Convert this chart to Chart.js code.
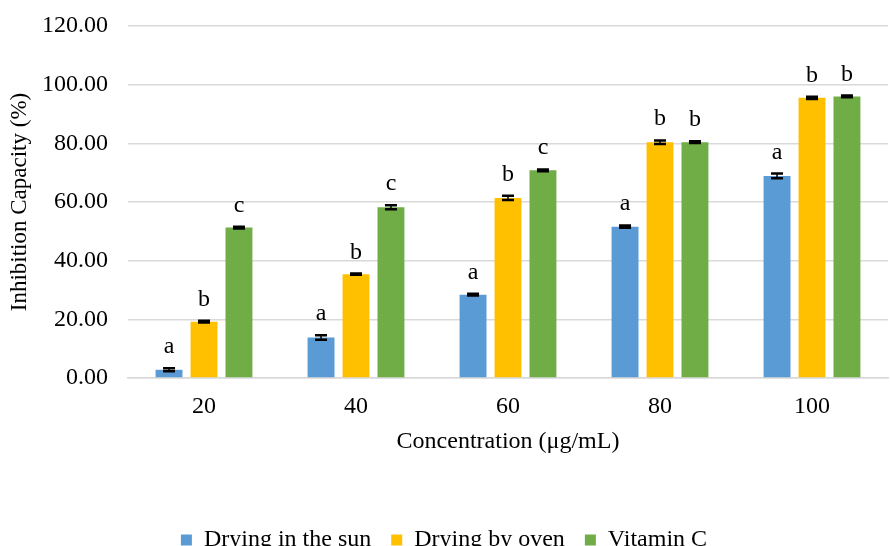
<!DOCTYPE html>
<html><head><meta charset="utf-8">
<script src="https://cdn.jsdelivr.net/npm/chart.js@4"></script>
<style>html,body{margin:0;padding:0;overflow:hidden;background:#fff}#wrap{width:890px;height:562px;position:relative}</style>
</head><body><div id="wrap"><canvas id="c"></canvas></div>
<script>
const categories = ['20', '40', '60', '80', '100'];
const seriesNames = ['Drying in the sun', 'Drying by oven', 'Vitamin C'];
const sunValues = [2.8, 13.8, 28.4, 51.6, 68.9];
const ovenValues = [19.2, 35.4, 61.4, 80.4, 95.5];
const vitcValues = [51.3, 58.2, 70.8, 80.4, 96.0];
const sunErrors = [0.5, 0.8, 0.3, 0.4, 0.8];
const ovenErrors = [0.3, 0.2, 0.7, 0.6, 0.4];
const vitcErrors = [0.3, 0.7, 0.3, 0.3, 0.3];
const sunLetters = ['a', 'a', 'a', 'a', 'a'];
const ovenLetters = ['b', 'b', 'b', 'b', 'b'];
const vitcLetters = ['c', 'c', 'c', 'b', 'b'];
const yTicks = [0, 20, 40, 60, 80, 100, 120];

const FONT = "'Liberation Serif', 'Times New Roman', serif";
const errorsBySeries = [sunErrors, ovenErrors, vitcErrors];
const lettersBySeries = [sunLetters, ovenLetters, vitcLetters];

const errorPlugin = {
  id: 'errLetters',
  afterDatasetsDraw(chart) {
    const ctx = chart.ctx;
    const y = chart.scales.y;
    chart.data.datasets.forEach((ds, di) => {
      const meta = chart.getDatasetMeta(di);
      meta.data.forEach((bar, i) => {
        const v = ds.data[i];
        const e = errorsBySeries[di][i];
        const yt = y.getPixelForValue(v + e);
        const yb = y.getPixelForValue(v - e);
        const x = bar.x;
        ctx.save();
        ctx.strokeStyle = '#000';
        ctx.lineWidth = 1.5;
        ctx.beginPath(); ctx.moveTo(x, yt); ctx.lineTo(x, yb); ctx.stroke();
        ctx.lineWidth = 2.5;
        ctx.beginPath();
        ctx.moveTo(x - 6, yt); ctx.lineTo(x + 6, yt);
        ctx.moveTo(x - 6, yb); ctx.lineTo(x + 6, yb);
        ctx.stroke();
        ctx.fillStyle = '#000';
        ctx.font = '24px ' + FONT;
        ctx.textAlign = 'center';
        ctx.textBaseline = 'alphabetic';
        ctx.fillText(lettersBySeries[di][i], x, yt - 15);
        ctx.restore();
      });
    });
  }
};

new Chart(document.getElementById('c'), {
  type: 'bar',
  data: {
    labels: categories,
    datasets: [
      { label: seriesNames[0], data: sunValues, backgroundColor: '#5B9BD5' },
      { label: seriesNames[1], data: ovenValues, backgroundColor: '#FFC000' },
      { label: seriesNames[2], data: vitcValues, backgroundColor: '#70AD47' }
    ]
  },
  options: {
    responsive: true,
    maintainAspectRatio: false,
    animation: false,
    datasets: { bar: { categoryPercentage: 0.69, barPercentage: 0.77 } },
    layout: { padding: { top: 26, right: 2, left: 0, bottom: 0 } },
    plugins: {
      tooltip: { enabled: false },
      legend: {
        position: 'bottom',
        labels: {
          boxWidth: 11, boxHeight: 11, color: '#000', padding: 20,
          font: { family: FONT, size: 24 }
        }
      }
    },
    scales: {
      x: {
        grid: { display: false, drawTicks: false },
        border: { display: true, color: '#d9d9d9', width: 1.5 },
        ticks: { color: '#000', font: { family: FONT, size: 24 }, padding: 14 },
        title: { display: true, text: 'Concentration (μg/mL)', color: '#000', font: { family: FONT, size: 24 }, padding: { top: 4, bottom: 52 } },
        afterFit(s) { s.height = 130; }
      },
      y: {
        min: 0, max: 120,
        afterBuildTicks(s) { s.ticks = yTicks.map(v => ({ value: v })); },
        grid: { color: '#d9d9d9', lineWidth: 1.5, drawTicks: false },
        border: { display: false },
        ticks: { color: '#000', font: { family: FONT, size: 24 }, padding: 20, callback: v => Number(v).toFixed(2) },
        title: { display: true, text: 'Inhibition Capacity (%)', color: '#000', font: { family: FONT, size: 23 }, padding: { top: 6, bottom: 0 } },
        afterFit(s) { s.width = 128; s.paddingTop = 0; s.paddingBottom = 0; }
      }
    }
  },
  plugins: [errorPlugin]
});
</script></body></html>
